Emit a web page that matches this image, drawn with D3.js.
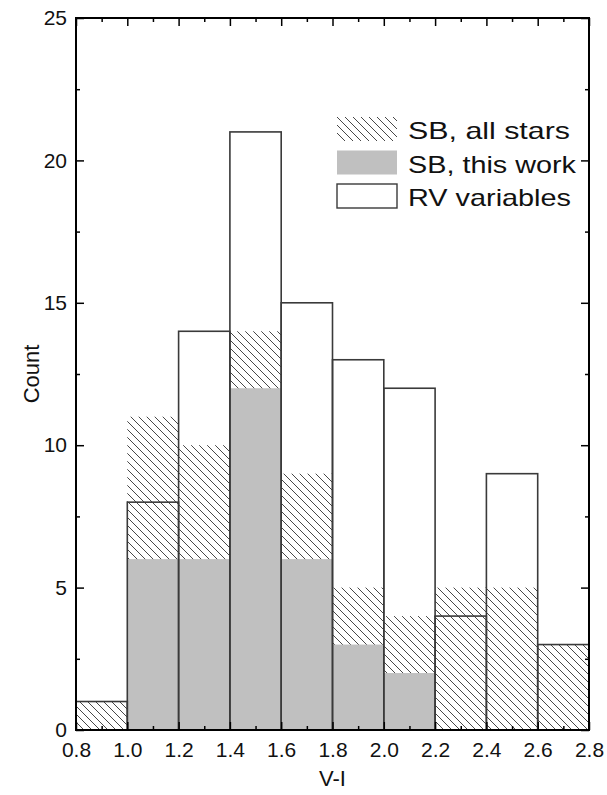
<!DOCTYPE html>
<html>
<head>
<meta charset="utf-8">
<script src="https://cdn.jsdelivr.net/npm/d3@7"></script>
<style>
body { margin: 0; background: #fff; }
text { font-family: "Liberation Sans", Arial, sans-serif; }
</style>
</head>
<body>
<script>
// bin edges (V-I) and counts per bin
var binStart = [0.8, 1.0, 1.2, 1.4, 1.6, 1.8, 2.0, 2.2, 2.4, 2.6];
var sbAll = [1, 11, 10, 14, 9, 5, 4, 5, 5, 3];
var sbThisWork = [0, 6, 6, 12, 6, 3, 2, 0, 0, 0];
var rvVariables = [1, 8, 14, 21, 15, 13, 12, 4, 9, 3];
var binWidth = 0.2;
var xTicks = [0.8, 1.0, 1.2, 1.4, 1.6, 1.8, 2.0, 2.2, 2.4, 2.6, 2.8];
var yTicks = [0, 5, 10, 15, 20, 25];
var legendLabels = ["SB, all stars", "SB, this work", "RV variables"];

var W = 607, H = 795;
var margin = {top: 18, right: 18, bottom: 65, left: 76};
var width = W - margin.left - margin.right;
var height = H - margin.top - margin.bottom;

var svg = d3.select("body").append("svg")
  .attr("width", W)
  .attr("height", H);

var defs = svg.append("defs");
var pat = defs.append("pattern")
  .attr("id", "hatch")
  .attr("patternUnits", "userSpaceOnUse")
  .attr("width", 8)
  .attr("height", 8);
pat.append("path")
  .attr("d", "M-2,-2 L10,10 M-2,6 L2,10 M6,-2 L10,2")
  .attr("stroke", "#333")
  .attr("stroke-width", 0.9);

var g = svg.append("g")
  .attr("transform", "translate(" + margin.left + "," + margin.top + ")");

var x = d3.scaleLinear().domain([0.8, 2.8]).range([0, width]);
var y = d3.scaleLinear().domain([0, 25]).range([height, 0]);

// hatched: SB all stars
g.selectAll("rect.all")
  .data(binStart)
  .enter().append("rect")
  .attr("class", "all")
  .attr("x", function(d) { return x(d); })
  .attr("width", function(d) { return x(d + binWidth) - x(d); })
  .attr("y", function(d, i) { return y(sbAll[i]); })
  .attr("height", function(d, i) { return y(0) - y(sbAll[i]); })
  .attr("fill", "url(#hatch)");

// grey: SB this work
g.selectAll("rect.tw")
  .data(binStart)
  .enter().append("rect")
  .attr("class", "tw")
  .attr("x", function(d) { return x(d); })
  .attr("width", function(d) { return x(d + binWidth) - x(d); })
  .attr("y", function(d, i) { return y(sbThisWork[i]); })
  .attr("height", function(d, i) { return y(0) - y(sbThisWork[i]); })
  .attr("fill", "#c0c0c0");

// outline: RV variables
g.selectAll("rect.rv")
  .data(binStart)
  .enter().append("rect")
  .attr("class", "rv")
  .attr("x", function(d) { return x(d); })
  .attr("width", function(d) { return x(d + binWidth) - x(d); })
  .attr("y", function(d, i) { return y(rvVariables[i]); })
  .attr("height", function(d, i) { return y(0) - y(rvVariables[i]); })
  .attr("fill", "none")
  .attr("stroke", "#3a3a3a")
  .attr("stroke-width", 1.6);

// axes
var minorX = d3.range(0.9, 2.8, 0.2);
var minorY = [2.5, 7.5, 12.5, 17.5, 22.5];

function styleAxis(sel) {
  sel.select(".domain").remove();
  sel.selectAll("line").attr("stroke", "#000").attr("stroke-width", 1.5);
  sel.selectAll("text").attr("font-size", 21).attr("fill", "#111");
}

g.append("g").attr("transform", "translate(0," + height + ")")
  .call(d3.axisBottom(x).tickValues(xTicks).tickFormat(d3.format(".1f")).tickSizeInner(-8).tickPadding(12))
  .call(styleAxis);
g.append("g").attr("transform", "translate(0," + height + ")")
  .call(d3.axisBottom(x).tickValues(minorX).tickFormat("").tickSizeInner(-4))
  .call(styleAxis);

g.append("g")
  .call(d3.axisTop(x).tickValues(xTicks).tickFormat("").tickSizeInner(-8))
  .call(styleAxis);
g.append("g")
  .call(d3.axisTop(x).tickValues(minorX).tickFormat("").tickSizeInner(-4))
  .call(styleAxis);

g.append("g")
  .call(d3.axisLeft(y).tickValues(yTicks).tickSizeInner(-8).tickPadding(9))
  .call(styleAxis);
g.append("g")
  .call(d3.axisLeft(y).tickValues(minorY).tickFormat("").tickSizeInner(-4))
  .call(styleAxis);

g.append("g").attr("transform", "translate(" + width + ",0)")
  .call(d3.axisRight(y).tickValues(yTicks).tickFormat("").tickSizeInner(-8))
  .call(styleAxis);
g.append("g").attr("transform", "translate(" + width + ",0)")
  .call(d3.axisRight(y).tickValues(minorY).tickFormat("").tickSizeInner(-4))
  .call(styleAxis);

// frame
g.append("rect")
  .attr("width", width)
  .attr("height", height)
  .attr("fill", "none")
  .attr("stroke", "#000")
  .attr("stroke-width", 2);

// axis titles
svg.append("text")
  .attr("x", margin.left + width / 2)
  .attr("y", 786)
  .attr("text-anchor", "middle")
  .attr("font-size", 22)
  .attr("fill", "#111")
  .text("V-I");

svg.append("text")
  .attr("transform", "translate(39," + (margin.top + height / 2) + ") rotate(-90)")
  .attr("text-anchor", "middle")
  .attr("font-size", 22)
  .attr("fill", "#111")
  .text("Count");

// legend
var legend = svg.append("g").attr("transform", "translate(337,117)");
var fills = ["url(#hatch)", "#c0c0c0", "#fff"];
var textLen = [162, 168, 163];
legend.selectAll("rect")
  .data(legendLabels)
  .enter().append("rect")
  .attr("x", 0)
  .attr("y", function(d, i) { return i * 33.5; })
  .attr("width", 60)
  .attr("height", 24)
  .attr("fill", function(d, i) { return fills[i]; })
  .attr("stroke", function(d, i) { return i == 2 ? "#3a3a3a" : "none"; })
  .attr("stroke-width", 1.4);
legend.selectAll("text")
  .data(legendLabels)
  .enter().append("text")
  .attr("x", 71)
  .attr("y", function(d, i) { return i * 33.5 + 22; })
  .attr("font-size", 24)
  .attr("textLength", function(d, i) { return textLen[i]; })
  .attr("lengthAdjust", "spacingAndGlyphs")
  .attr("fill", "#111")
  .text(function(d) { return d; });
</script>
</body>
</html>
